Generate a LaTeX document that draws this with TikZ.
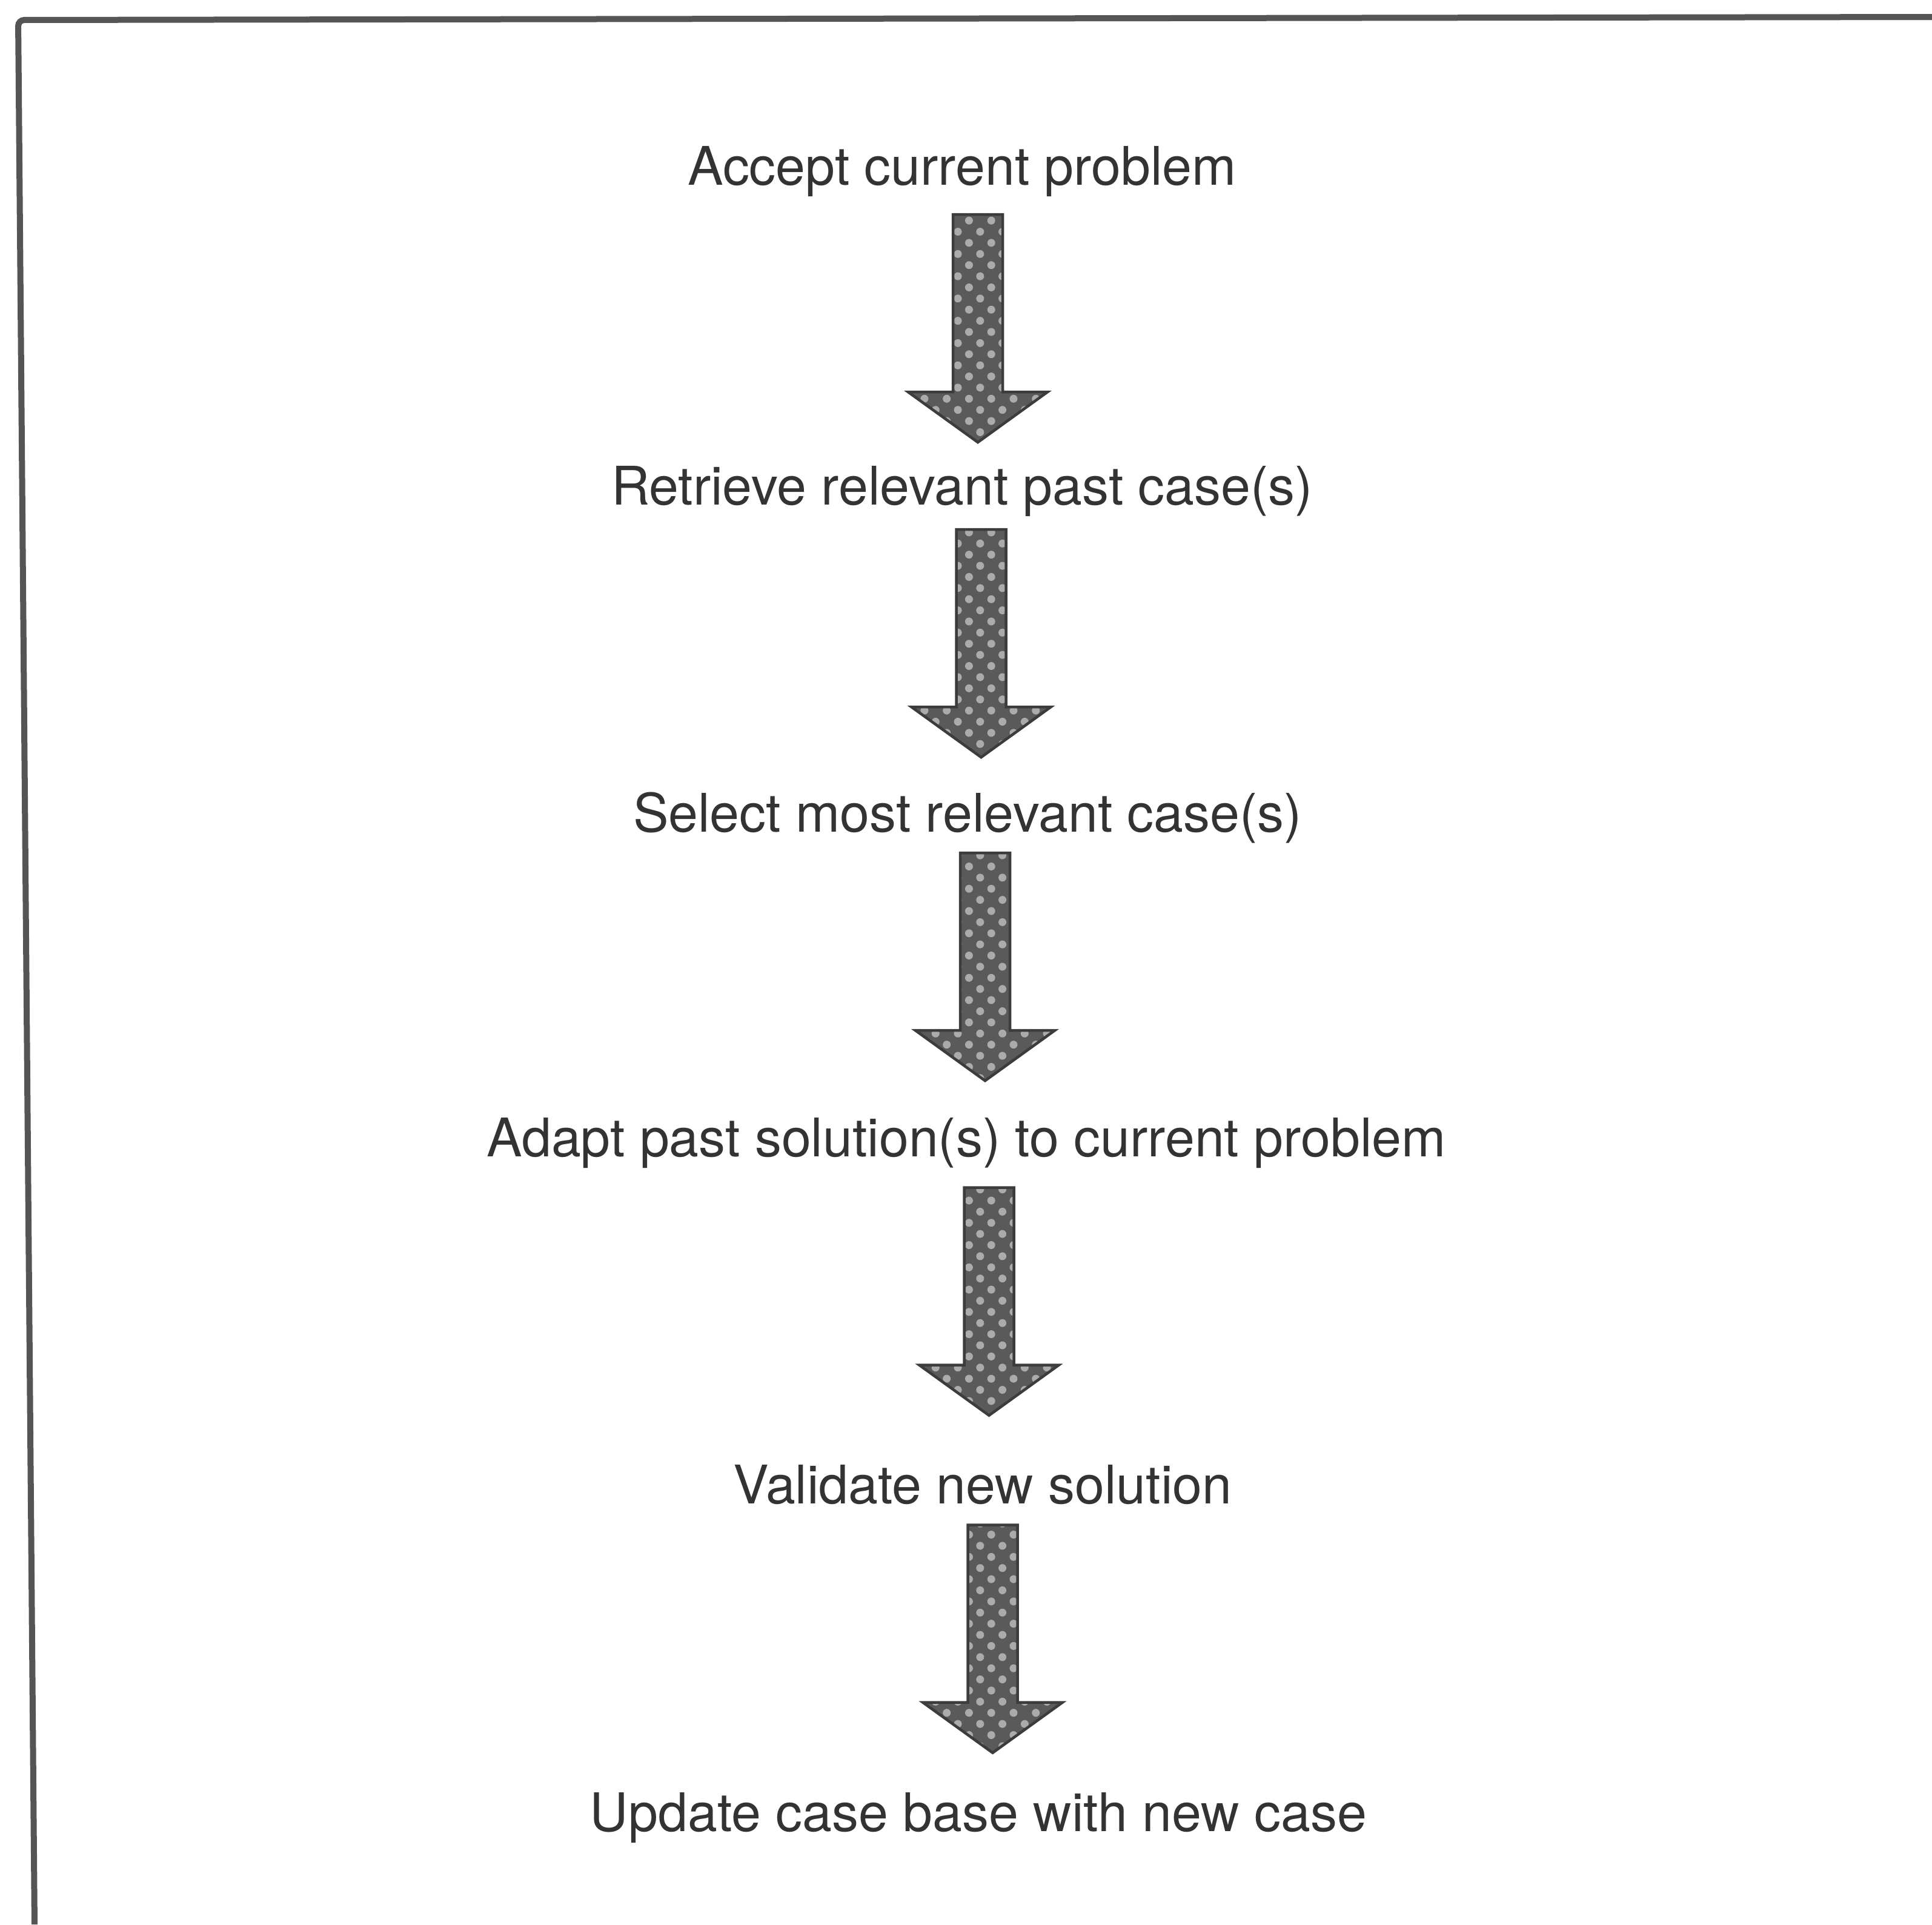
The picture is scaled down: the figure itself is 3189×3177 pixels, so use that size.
\documentclass[tikz,border=0pt]{standalone}
\usepackage{fontspec}
\setmainfont{TeX Gyre Heros}
\usetikzlibrary{calc,patterns.meta}
\definecolor{inkgray}{HTML}{333333}
\definecolor{framegray}{HTML}{555555}
\definecolor{arrowdark}{HTML}{5A5A5A}
\definecolor{arrowline}{HTML}{3C3C3C}
\definecolor{arrowdot}{HTML}{ABABAB}

% block arrow between two stage texts, #1 = shift of the arrow
\newcommand{\stagearrow}[3][(26,0)]{%
  \coordinate (mid) at ($(#2.south)!0.5!(#3.north)$);
  \path[stagearrow] ($(mid)+#1+(-41,-210)$) -- ++(82,0) -- ++(0,293) -- ++(74,0)
    -- ++(-115,83) -- ++(-115,-83) -- ++(74,0) -- cycle;}

\begin{document}
\begin{tikzpicture}[
  x=0.1mm, y=-0.1mm,
  stage/.style={anchor=base, inner sep=0pt, text height=19pt, text depth=6pt,
    text=inkgray, font=\fontsize{25}{30}\selectfont},
  stagearrow/.style={draw=arrowline, line width=0.45mm, line join=miter,
    preaction={fill=arrowdark},
    pattern={Dots[distance=2.6mm, radius=0.65mm, angle=45]}, pattern color=arrowdot},
  frameline/.style={draw=framegray, line width=1mm, rounded corners=1mm}
]
\useasboundingbox (0,0) rectangle (3189,3177);
\draw[frameline] (57,3177) -- (30,33) -- (3189,28);

\node[stage] (accept) at (1588,305) {Accept current problem};
\node[stage] (retrieve) at (1588,833) {Retrieve relevant past case(s)};
\node[stage] (select) at (1597,1373) {Select most relevant case(s)};
\node[stage] (adapt) at (1595,1909) {Adapt past solution(s) to current problem};
\node[stage] (validate) at (1622,2482) {Validate new solution};
\node[stage] (update) at (1615,3023) {Update case base with new case};

\stagearrow[(26,18)]{accept}{retrieve}
\stagearrow[(27,4)]{retrieve}{select}
\stagearrow[(30,0)]{select}{adapt}
\stagearrow[(24,-2)]{adapt}{validate}
\stagearrow[(20,-2)]{validate}{update}
\end{tikzpicture}
\end{document}
